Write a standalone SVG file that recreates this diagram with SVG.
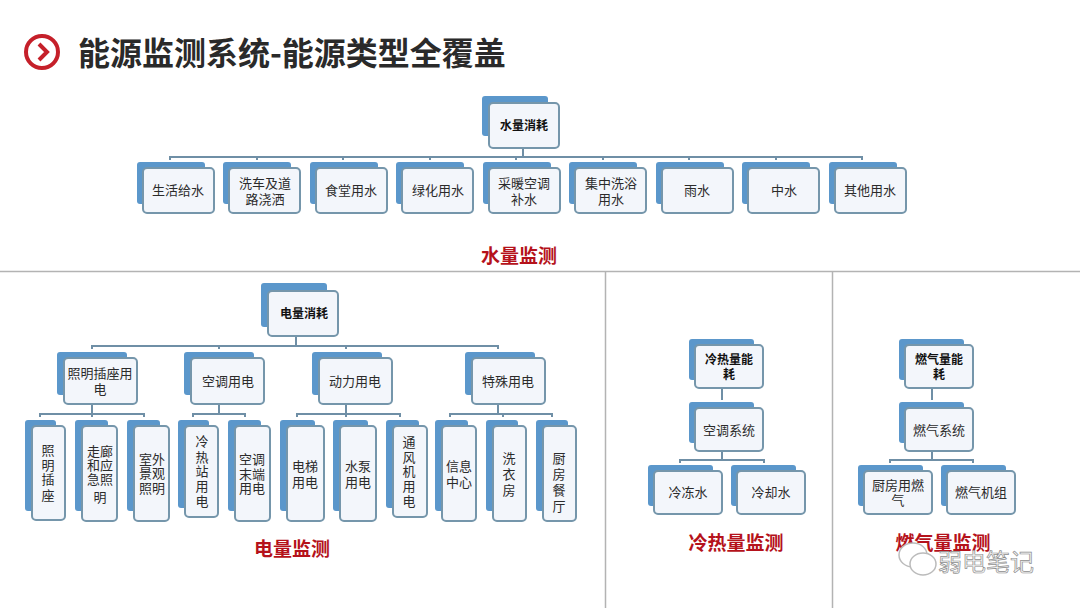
<svg xmlns="http://www.w3.org/2000/svg" width="1080" height="608" viewBox="0 0 1080 608">
<style>
.b{fill:#5b97cb}
.f{fill:#f3f6fb;stroke:#7596ab;stroke-width:2}
.t{font-family:"Noto Sans CJK SC","Liberation Sans",sans-serif;font-size:13px;fill:#2b2b2b;text-anchor:middle}
.h{font-weight:700;font-size:12px;fill:#111}
.r{font-family:"Noto Sans CJK SC","Liberation Sans",sans-serif;font-size:19px;font-weight:700;fill:#b5121b;text-anchor:middle}
.c{fill:none;stroke:#6f8fa6;stroke-width:2}
.d{stroke:#b3b3b3;stroke-width:1.5;fill:none}
</style>
<rect width="1080" height="608" fill="#fff"/>
<g id="title"><circle cx="42" cy="52" r="16" fill="none" stroke="#c5202a" stroke-width="4"/><path d="M39 44l8 8-8 8" fill="none" stroke="#c5202a" stroke-width="4"/>
<text x="78" y="65" font-family="'Noto Sans CJK SC','Liberation Sans',sans-serif" font-size="32" font-weight="700" fill="#2a2a2a">能源监测系统-能源类型全覆盖</text></g>
<g id="dividers"><path class="d" d="M0 271.500H1080M605.500 271.500V608M832.500 271.500V608"/></g>
<g id="connectors"><path class="c" d="M523 148V157M170 160V157H862V160M257 157V160M343 157V160M430 157V160M516 157V160M603 157V160M689 157V160M776 157V160
M296 337V346M92 349V346H498V349M219 346V349M346 346V349M498 346V349
M92 405V414M40 417V414H144V417M92 414V417M219 405V414M193 417V414H245V417M346 405V414M297 417V414H400V417M346 414V417M498 405V414M450 417V414H552V417M503 414V417
M722 388V400M722 452V460M680 463V460H764V463M932 388V400M932 452V460M890 463V460H973V463"/></g>
<g id="n1"><rect class="b" x="482" y="96" width="66" height="40" rx="3"/><rect class="f" x="489" y="103" width="70" height="45" rx="4"/><text class="t h" x="524" y="130">水量消耗</text></g>
<g id="n2"><rect class="b" x="137" y="162" width="68" height="42" rx="3"/><rect class="f" x="143" y="168" width="71" height="45" rx="4"/><text class="t" x="178" y="195">生活给水</text></g>
<g id="n3"><rect class="b" x="223" y="162" width="68" height="42" rx="3"/><rect class="f" x="229" y="168" width="71" height="45" rx="4"/><text class="t" x="265" y="188">洗车及道</text><text class="t" x="265" y="204">路浇洒</text></g>
<g id="n4"><rect class="b" x="310" y="162" width="68" height="42" rx="3"/><rect class="f" x="316" y="168" width="71" height="45" rx="4"/><text class="t" x="351" y="195">食堂用水</text></g>
<g id="n5"><rect class="b" x="396" y="162" width="68" height="42" rx="3"/><rect class="f" x="402" y="168" width="71" height="45" rx="4"/><text class="t" x="438" y="195">绿化用水</text></g>
<g id="n6"><rect class="b" x="483" y="162" width="68" height="42" rx="3"/><rect class="f" x="489" y="168" width="71" height="45" rx="4"/><text class="t" x="524" y="188">采暖空调</text><text class="t" x="524" y="204">补水</text></g>
<g id="n7"><rect class="b" x="569" y="162" width="68" height="42" rx="3"/><rect class="f" x="575" y="168" width="71" height="45" rx="4"/><text class="t" x="611" y="188">集中洗浴</text><text class="t" x="611" y="204">用水</text></g>
<g id="n8"><rect class="b" x="656" y="162" width="68" height="42" rx="3"/><rect class="f" x="662" y="168" width="71" height="45" rx="4"/><text class="t" x="697" y="195">雨水</text></g>
<g id="n9"><rect class="b" x="742" y="162" width="68" height="42" rx="3"/><rect class="f" x="748" y="168" width="71" height="45" rx="4"/><text class="t" x="784" y="195">中水</text></g>
<g id="n10"><rect class="b" x="829" y="162" width="68" height="42" rx="3"/><rect class="f" x="835" y="168" width="71" height="45" rx="4"/><text class="t" x="870" y="195">其他用水</text></g>
<text class="r" x="519" y="263">水量监测</text>
<g id="e0"><rect class="b" x="261" y="283" width="66" height="44" rx="3"/><rect class="f" x="268" y="291" width="70" height="45" rx="4"/><text class="t h" x="304" y="318">电量消耗</text></g>
<g id="e1"><rect class="b" x="57" y="352" width="70" height="43" rx="3"/><rect class="f" x="64" y="358" width="73" height="46" rx="4"/><text class="t" x="100" y="378">照明插座用</text><text class="t" x="100" y="394">电</text></g>
<g id="e2"><rect class="b" x="184" y="352" width="70" height="43" rx="3"/><rect class="f" x="191" y="358" width="73" height="46" rx="4"/><text class="t" x="228" y="386">空调用电</text></g>
<g id="e3"><rect class="b" x="312" y="352" width="70" height="43" rx="3"/><rect class="f" x="319" y="358" width="73" height="46" rx="4"/><text class="t" x="355" y="386">动力用电</text></g>
<g id="e4"><rect class="b" x="465" y="352" width="70" height="43" rx="3"/><rect class="f" x="472" y="358" width="73" height="46" rx="4"/><text class="t" x="508" y="386">特殊用电</text></g>
<g id="e5"><rect class="b" x="25" y="420" width="31" height="91" rx="3"/><rect class="f" x="32" y="426" width="33" height="94" rx="4"/><text class="t" x="48" y="455">照</text><text class="t" x="48" y="470">明</text><text class="t" x="48" y="484">插</text><text class="t" x="48" y="500">座</text></g>
<g id="e6"><rect class="b" x="75" y="420" width="33" height="91" rx="3"/><rect class="f" x="82" y="426" width="35" height="95" rx="4"/><text class="t" x="100" y="456">走廊</text><text class="t" x="100" y="470">和应</text><text class="t" x="100" y="484">急照</text><text class="t" x="100" y="502">明</text></g>
<g id="e7"><rect class="b" x="127" y="420" width="33" height="91" rx="3"/><rect class="f" x="134" y="426" width="35" height="95" rx="4"/><text class="t" x="152" y="464">室外</text><text class="t" x="152" y="478">景观</text><text class="t" x="152" y="493">照明</text></g>
<g id="e8"><rect class="b" x="178" y="420" width="31" height="88" rx="3"/><rect class="f" x="185" y="426" width="33" height="91" rx="4"/><text class="t" x="202" y="446">冷</text><text class="t" x="202" y="462">热</text><text class="t" x="202" y="476">站</text><text class="t" x="202" y="491">用</text><text class="t" x="202" y="506">电</text></g>
<g id="e9"><rect class="b" x="228" y="420" width="33" height="91" rx="3"/><rect class="f" x="235" y="426" width="35" height="95" rx="4"/><text class="t" x="252" y="464">空调</text><text class="t" x="252" y="479">末端</text><text class="t" x="252" y="493">用电</text></g>
<g id="e10"><rect class="b" x="280" y="420" width="35" height="91" rx="3"/><rect class="f" x="287" y="426" width="37" height="95" rx="4"/><text class="t" x="305" y="471">电梯</text><text class="t" x="305" y="487">用电</text></g>
<g id="e11"><rect class="b" x="333" y="420" width="35" height="91" rx="3"/><rect class="f" x="340" y="426" width="36" height="95" rx="4"/><text class="t" x="358" y="471">水泵</text><text class="t" x="358" y="487">用电</text></g>
<g id="e12"><rect class="b" x="386" y="420" width="33" height="88" rx="3"/><rect class="f" x="393" y="426" width="34" height="91" rx="4"/><text class="t" x="409" y="447">通</text><text class="t" x="409" y="462">风</text><text class="t" x="409" y="476">机</text><text class="t" x="409" y="491">用</text><text class="t" x="409" y="506">电</text></g>
<g id="e13"><rect class="b" x="435" y="420" width="33" height="91" rx="3"/><rect class="f" x="442" y="426" width="34" height="95" rx="4"/><text class="t" x="459" y="471">信息</text><text class="t" x="459" y="487">中心</text></g>
<g id="e14"><rect class="b" x="486" y="420" width="32" height="91" rx="3"/><rect class="f" x="493" y="426" width="33" height="95" rx="4"/><text class="t" x="509" y="463">洗</text><text class="t" x="509" y="479">衣</text><text class="t" x="509" y="495">房</text></g>
<g id="e15"><rect class="b" x="536" y="420" width="32" height="91" rx="3"/><rect class="f" x="543" y="426" width="33" height="95" rx="4"/><text class="t" x="559" y="463">厨</text><text class="t" x="559" y="479">房</text><text class="t" x="559" y="495">餐</text><text class="t" x="559" y="511">厅</text></g>
<text class="r" x="292" y="556">电量监测</text>
<g id="c0"><rect class="b" x="689" y="339" width="65" height="41" rx="3"/><rect class="f" x="695" y="345" width="68" height="43" rx="4"/><text class="t h" x="729" y="364">冷热量能</text><text class="t h" x="729" y="379">耗</text></g>
<g id="c1"><rect class="b" x="689" y="402" width="65" height="41" rx="3"/><rect class="f" x="695" y="408" width="68" height="43" rx="4"/><text class="t" x="729" y="435">空调系统</text></g>
<g id="c2"><rect class="b" x="648" y="465" width="65" height="41" rx="3"/><rect class="f" x="654" y="471" width="68" height="43" rx="4"/><text class="t" x="688" y="497">冷冻水</text></g>
<g id="c3"><rect class="b" x="731" y="465" width="65" height="41" rx="3"/><rect class="f" x="737" y="471" width="68" height="43" rx="4"/><text class="t" x="771" y="497">冷却水</text></g>
<text class="r" x="736" y="550">冷热量监测</text>
<g id="g0"><rect class="b" x="899" y="339" width="65" height="41" rx="3"/><rect class="f" x="905" y="345" width="68" height="43" rx="4"/><text class="t h" x="939" y="364">燃气量能</text><text class="t h" x="939" y="379">耗</text></g>
<g id="g1"><rect class="b" x="899" y="402" width="65" height="41" rx="3"/><rect class="f" x="905" y="408" width="68" height="43" rx="4"/><text class="t" x="939" y="435">燃气系统</text></g>
<g id="g2"><rect class="b" x="858" y="465" width="65" height="41" rx="3"/><rect class="f" x="864" y="471" width="68" height="43" rx="4"/><text class="t" x="898" y="490">厨房用燃</text><text class="t" x="898" y="505">气</text></g>
<g id="g3"><rect class="b" x="941" y="465" width="65" height="41" rx="3"/><rect class="f" x="947" y="471" width="68" height="43" rx="4"/><text class="t" x="981" y="497">燃气机组</text></g>
<text class="r" x="943" y="550">燃气量监测</text>
<g id="watermark"><ellipse cx="913" cy="555" rx="14" ry="12" fill="#fff" stroke="#bbb" stroke-width="1.5"/><ellipse cx="923" cy="564" rx="13" ry="11" fill="#fff" stroke="#bbb" stroke-width="1.5"/><text x="938" y="571" font-family="'Noto Sans CJK SC',sans-serif" font-size="24" fill="#f4f4f4" stroke="#8e8e8e" stroke-width=".7">弱电笔记</text></g>
</svg>
